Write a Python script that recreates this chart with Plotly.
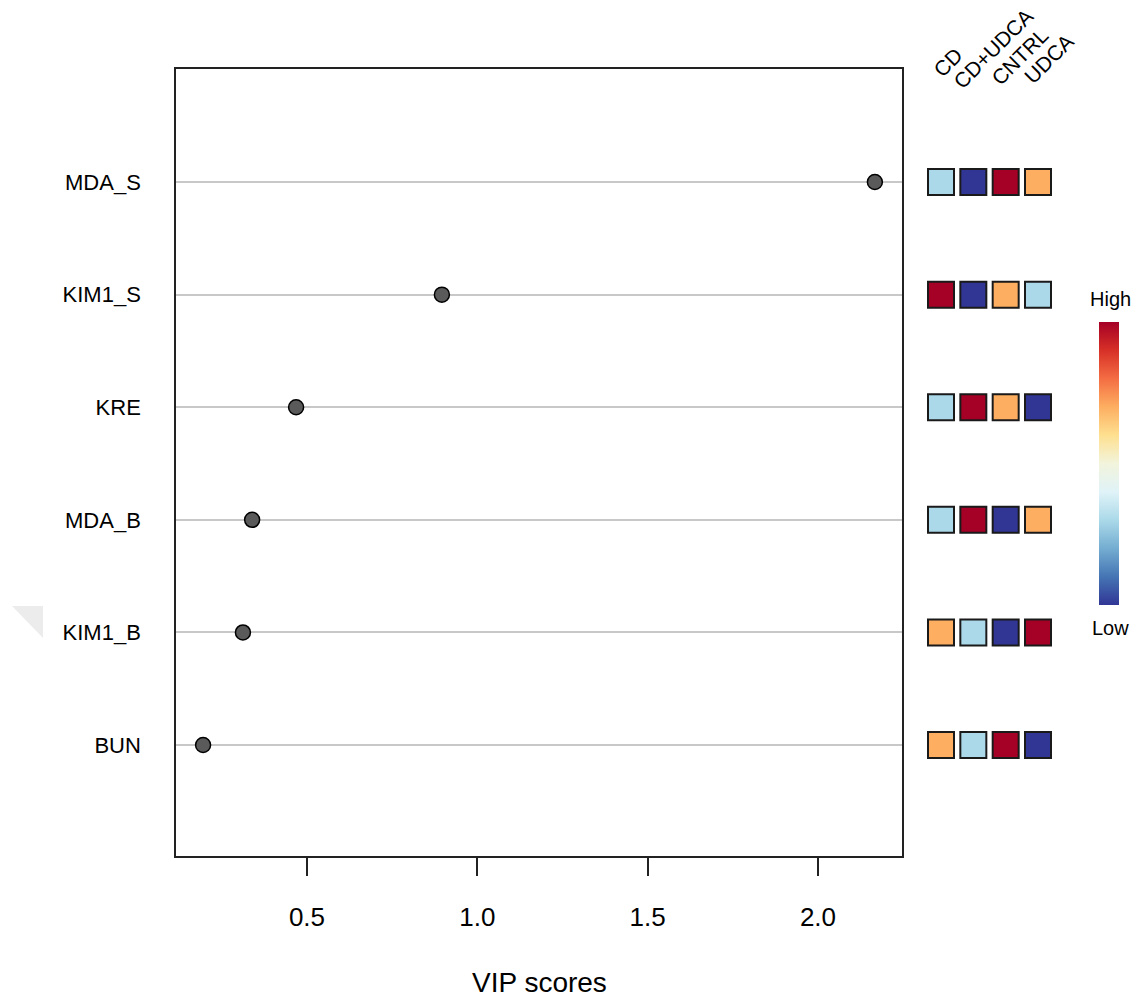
import plotly.graph_objects as go

# ---- data ----
features = ["BUN", "KIM1_B", "MDA_B", "KRE", "KIM1_S", "MDA_S"]
vip_scores = [0.195, 0.312, 0.339, 0.468, 0.896, 2.167]
groups = ["CD", "CD+UDCA", "CNTRL", "UDCA"]
# relative level rank (1 = low ... 4 = high) per feature, per group
ranks = {
    "MDA_S":  [2, 1, 4, 3],
    "KIM1_S": [4, 1, 3, 2],
    "KRE":    [2, 4, 3, 1],
    "MDA_B":  [2, 4, 1, 3],
    "KIM1_B": [3, 2, 1, 4],
    "BUN":    [3, 2, 4, 1],
}
x_ticks = [0.5, 1.0, 1.5, 2.0]
x_tick_text = ["0.5", "1.0", "1.5", "2.0"]

# ---- styles ----
W, H = 1144, 1003
OFF = 8  # page body margin
FONT = "Liberation Sans, Arial, sans-serif"
rank_colors = ["#313695", "#ABD9E9", "#FDAE61", "#A50026"]
rdylbu_r = ["#313695", "#4575B4", "#74ADD1", "#ABD9E9", "#E0F3F8", "#F2F4DC",
            "#FEE090", "#FDAE61", "#F46D43", "#D73027", "#A50026"]
colorscale = [[i / (len(rdylbu_r) - 1), c] for i, c in enumerate(rdylbu_r)]


def px(x):
    return (x - OFF) / W


def py(y):
    return 1 - (y - OFF) / H


fig = go.Figure()

# VIP dots
fig.add_trace(go.Scatter(
    x=vip_scores, y=features, mode="markers",
    marker=dict(size=15, color="#5a5a5a", line=dict(color="black", width=1.5)),
    xaxis="x", yaxis="y", showlegend=False, hoverinfo="x+y",
))

# heat squares
hx, hy, hc = [], [], []
for f in features:
    for g, r in zip(groups, ranks[f]):
        hx.append(g)
        hy.append(f)
        hc.append(rank_colors[r - 1])
fig.add_trace(go.Scatter(
    x=hx, y=hy, mode="markers",
    marker=dict(symbol="square", size=26, color=hc,
                line=dict(color="#1a1a1a", width=2)),
    xaxis="x2", yaxis="y2", showlegend=False, hoverinfo="x+y",
))

# colour bar (dummy trace)
fig.add_trace(go.Scatter(
    x=[None], y=[None], mode="markers", xaxis="x", yaxis="y",
    marker=dict(color=[0], cmin=0, cmax=1, colorscale=colorscale, showscale=True,
                colorbar=dict(thickness=20, thicknessmode="pixels",
                              len=283, lenmode="pixels",
                              x=px(1099), xanchor="left", xpad=0,
                              y=py(463.5), yanchor="middle", ypad=0,
                              outlinewidth=0, showticklabels=False, ticks="")),
    showlegend=False, hoverinfo="skip",
))

ydom = [py(856), py(69)]
yrng = [-0.986, 6.004]
fig.update_layout(
    width=W, height=H, autosize=False,
    margin=dict(l=0, r=0, t=0, b=0),
    paper_bgcolor="white", plot_bgcolor="white",
    font=dict(family=FONT, color="black"),
    xaxis=dict(domain=[px(176), px(902)], range=[0.1155, 2.2466],
               tickmode="array", tickvals=x_ticks, ticktext=x_tick_text,
               ticks="outside", ticklen=18, tickwidth=1.5, tickcolor="#222",
               tickfont=dict(size=26), ticklabelstandoff=19,
               showline=True, mirror=True, linecolor="#222", linewidth=1.5,
               showgrid=False, zeroline=False, anchor="y"),
    yaxis=dict(domain=ydom, range=yrng,
               type="category", categoryorder="array", categoryarray=features,
               tickfont=dict(size=22), ticks="", ticklabelstandoff=29,
               showline=True, mirror=True, linecolor="#222", linewidth=1.5,
               showgrid=True, gridcolor="#c8c8c8", gridwidth=1.5,
               zeroline=False, anchor="x"),
    xaxis2=dict(domain=[px(924.8), px(1054.2)], range=[-0.5, 3.5],
                type="category", categoryorder="array", categoryarray=groups,
                visible=False, anchor="y2"),
    yaxis2=dict(domain=ydom, range=yrng,
                type="category", categoryorder="array", categoryarray=features,
                visible=False, showgrid=False, anchor="x2"),
)

# axis title
fig.add_annotation(text="VIP scores", x=px(539), y=py(982), xref="paper", yref="paper",
                   showarrow=False, xanchor="center", yanchor="middle",
                   font=dict(size=28))

# High / Low labels
fig.add_annotation(text="High", x=px(1110), y=py(299), xref="paper", yref="paper",
                   showarrow=False, xanchor="center", yanchor="middle", font=dict(size=20))
fig.add_annotation(text="Low", x=px(1110), y=py(628), xref="paper", yref="paper",
                   showarrow=False, xanchor="center", yanchor="middle", font=dict(size=20))

# rotated group labels; start (bottom-left of baseline) positions in page px
label_starts = [(935, 77), (955, 88), (993, 85), (1026, 83)]
arial_w = {"C": .722, "D": .722, "+": .584, "U": .722, "A": .667, "N": .722,
           "T": .611, "R": .722, "L": .556}
lab_size = 21
s = 0.7071
for g, (bx, by) in zip(groups, label_starts):
    w = sum(arial_w[c] for c in g) * lab_size
    hh = 0.05 * lab_size
    along = w / 2 + 4
    cx = bx + along * s - hh * s
    cy = by - along * s - hh * s
    fig.add_annotation(text=g, x=px(cx), y=py(cy), xref="paper", yref="paper",
                       showarrow=False, xanchor="center", yanchor="middle",
                       textangle=-45, font=dict(size=lab_size))

# faint grey triangle at left edge
fig.add_shape(type="path", xref="paper", yref="paper",
              path=f"M {px(12)} {py(606)} L {px(43)} {py(606)} L {px(43)} {py(638)} Z",
              fillcolor="#ececec", line=dict(width=0), layer="below")

fig.write_html("out.html")
